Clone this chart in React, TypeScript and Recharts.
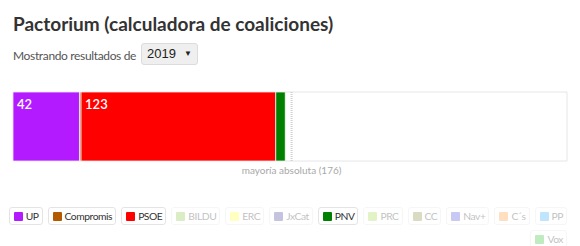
import React from 'react';
import { BarChart, Bar, XAxis, YAxis, ReferenceLine, LabelList } from 'recharts';

const parties = ['UP', 'Compromis', 'PSOE', 'BILDU', 'ERC', 'JxCat', 'PNV', 'PRC', 'CC', 'Nav+', 'C´s', 'PP', 'Vox'];
const partyColors = ['#b31aff', '#b35900', '#ff0000', '#8cc63f', '#ffff33', '#3f3f9f', '#008000', '#a6d94c', '#8c8c40', '#4d4ddb', '#ff9933', '#33aaff', '#33bb33'];
const seats2019 = [42, 1, 123, 0, 0, 0, 6, 0, 0, 0, 0, 0, 0];
const selected = [true, true, true, false, false, false, true, false, false, false, false, false, false];
const totalSeats = 350;
const majority = 176;
const years = ['2019'];

const row: Record<string, any> = { name: years[0] };
parties.forEach((p, i) => {
  row[p] = selected[i] ? seats2019[i] : 0;
});
const data = [row];

const FONT = 'Lato, "Open Sans", sans-serif';

const ValueLabel = (props: any) => {
  const { x, y, value } = props;
  if (!value || value < 10) return null;
  return (
    <text x={x + 4} y={y + 17} fill="#fff" fontSize={13} fontWeight={600} fontFamily={FONT}>
      {value}
    </text>
  );
};

const MajorityLabel = (props: any) => {
  const vb = props.viewBox || {};
  return (
    <text x={vb.x} y={vb.y + vb.height + 13} textAnchor="middle" fill="#a8a8a8" fontSize={10} fontFamily={FONT}>
      mayoría absoluta ({majority})
    </text>
  );
};

export default function App() {
  const activeIdx = parties.map((_, i) => i).filter((i) => selected[i] && seats2019[i] > 0);
  return (
    <div style={{ position: 'relative', width: 564, height: 238, fontFamily: FONT }}>
      <div style={{ position: 'absolute', left: -8, top: -8, width: 5, height: 50, background: '#f3f3f3' }} />
      <div style={{ position: 'absolute', left: -8, top: 67, width: 3, height: 16, background: '#f3f3f3' }} />
      <div style={{ position: 'absolute', left: 5, top: 4, fontSize: 19, fontWeight: 700, color: '#333', lineHeight: '24px', whiteSpace: 'nowrap' }}>
        Pactorium (calculadora de coaliciones)
      </div>
      <div style={{ position: 'absolute', left: 5, top: 39, fontSize: 12, letterSpacing: -0.35, color: '#555', lineHeight: '18px', whiteSpace: 'nowrap' }}>
        Mostrando resultados de
      </div>
      <div
        style={{
          position: 'absolute', left: 133, top: 35, width: 57, height: 22, boxSizing: 'border-box',
          background: '#efefef', border: '1px solid #dcdcdc', borderRadius: 3,
          fontFamily: '"Liberation Sans", Arial, sans-serif', fontSize: 13, color: '#222',
          lineHeight: '20px', paddingLeft: 5,
        }}
      >
        {years[0]}
        <span style={{ position: 'absolute', right: 5, top: 0, fontSize: 8 }}>▼</span>
      </div>
      <div style={{ position: 'absolute', left: 0, top: 72 }}>
        <BarChart
          width={572}
          height={110}
          data={data}
          layout="vertical"
          margin={{ top: 12, right: 13, left: 5, bottom: 29 }}
          barCategoryGap={0}
        >
          <XAxis type="number" domain={[0, totalSeats]} hide />
          <YAxis type="category" dataKey="name" hide />
          {activeIdx.map((i, k) => (
            <Bar
              key={parties[i]}
              dataKey={parties[i]}
              stackId="a"
              fill={partyColors[i]}
              stroke="rgba(255,255,255,0.7)"
              strokeWidth={1}
              isAnimationActive={false}
              background={k === 0 ? { fill: '#fff', stroke: '#e6e6e6', strokeWidth: 1 } : undefined}
            >
              <LabelList dataKey={parties[i]} content={<ValueLabel />} />
            </Bar>
          ))}
          <ReferenceLine x={majority} stroke="#cfcfcf" strokeWidth={2} strokeDasharray="1 1" label={<MajorityLabel />} />
        </BarChart>
      </div>
      <div
        style={{
          position: 'absolute', left: 0, top: 199, width: 559, display: 'flex', flexWrap: 'wrap',
          justifyContent: 'flex-end', rowGap: 5, columnGap: 5,
        }}
      >
        {parties.map((p, i) => (
          <div
            key={p}
            style={{
              display: 'flex', alignItems: 'center', height: 18, boxSizing: 'border-box',
              border: '1px solid #e4e4e4', borderRadius: 3, padding: '0 3px 0 4px',
              fontSize: 10.3, letterSpacing: -0.45, color: '#333', opacity: selected[i] ? 1 : 0.3, background: '#fff',
              whiteSpace: 'nowrap',
            }}
          >
            <span style={{ display: 'inline-block', width: 9, height: 9, background: partyColors[i], borderRadius: 1, marginRight: 3 }} />
            {p}
          </div>
        ))}
      </div>
    </div>
  );
}
